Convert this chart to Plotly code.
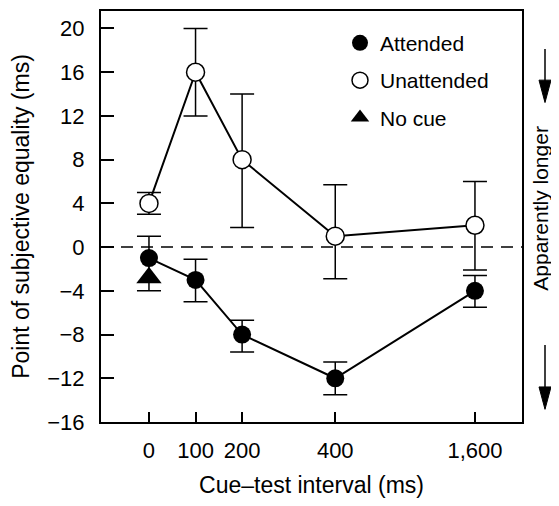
import plotly.graph_objects as go

# ---- data ----
intervals = [0, 100, 200, 400, 1600]
tick_labels = ["0", "100", "200", "400", "1,600"]
axis_pos = [0, 1, 2, 4, 7]          # broken (non-linear) interval axis

attended = [-1, -3, -8, -12, -4]
attended_err_plus = [2, 1.9, 1.3, 1.5, 1.4]
attended_err_minus = [3, 2, 1.6, 1.5, 1.5]

unattended = [4, 16, 8, 1, 2]
unattended_err_plus = [1, 4, 6, 4.7, 4]
unattended_err_minus = [1, 4, 6.2, 3.9, 4.1]

no_cue_interval = [0]
no_cue = [-2.8]

y_ticks = [-16, -12, -8, -4, 0, 4, 8, 12, 16, 20]

pos = dict(zip(intervals, axis_pos))
xs = [pos[i] for i in intervals]
FONT = "Liberation Sans, Arial, sans-serif"

# page has an 8px body margin; figure sized to fit the window without overflow
OFF = 8
W, H = 543, 490
L, R, T, B = 93, 514, 1, 423      # plot area in figure pixels


def px(page_x):
    return (page_x - OFF - L) / (R - L)


def py(page_y):
    return (B - (page_y - OFF)) / (B - T)


fig = go.Figure()

# connecting lines (no legend entries)
for vals in (attended, unattended):
    fig.add_trace(go.Scatter(x=xs, y=vals, mode="lines", showlegend=False,
                             hoverinfo="skip", line=dict(color="black", width=2)))

fig.add_trace(go.Scatter(
    x=[pos[i] for i in no_cue_interval], y=no_cue, name="No cue",
    mode="markers", legendgroup="c", legendrank=3,
    marker=dict(symbol="triangle-up", size=22, color="black"),
))
fig.add_trace(go.Scatter(
    x=xs, y=attended, name="Attended", mode="markers",
    legendgroup="a", legendrank=1,
    marker=dict(symbol="circle", size=18, color="black"),
    error_y=dict(type="data", symmetric=False, array=attended_err_plus,
                 arrayminus=attended_err_minus, color="black", thickness=1.5, width=12),
))
fig.add_trace(go.Scatter(
    x=xs, y=unattended, name="Unattended", mode="markers",
    legendgroup="b", legendrank=2,
    marker=dict(symbol="circle", size=18, color="white", line=dict(color="black", width=1.5)),
    error_y=dict(type="data", symmetric=False, array=unattended_err_plus,
                 arrayminus=unattended_err_minus, color="black", thickness=1.5, width=12),
))

AX = 545   # page x of the side arrows
shapes = [
    dict(type="line", xref="paper", yref="y", x0=0, x1=1, y0=0, y1=0,
         line=dict(color="black", width=1.5, dash="12px,8px"), layer="below"),
    # top arrow
    dict(type="line", xref="paper", yref="paper", x0=px(AX), x1=px(AX), y0=py(48), y1=py(90),
         line=dict(color="black", width=1.5)),
    dict(type="path", xref="paper", yref="paper",
         path=f"M {px(AX - 6)} {py(80)} L {px(AX + 6)} {py(80)} L {px(AX)} {py(103)} Z",
         fillcolor="black", line=dict(color="black", width=1)),
    # bottom arrow
    dict(type="line", xref="paper", yref="paper", x0=px(AX), x1=px(AX), y0=py(352), y1=py(405),
         line=dict(color="black", width=1.5)),
    dict(type="path", xref="paper", yref="paper",
         path=f"M {px(AX - 6)} {py(395)} L {px(AX + 6)} {py(395)} L {px(AX)} {py(418)} Z",
         fillcolor="black", line=dict(color="black", width=1)),
]

fig.update_layout(
    width=W, height=H,
    margin=dict(l=L, r=W - R, t=T, b=H - B, pad=0),
    paper_bgcolor="white", plot_bgcolor="white",
    font=dict(family=FONT, size=21, color="black"),
    showlegend=True,
    legend=dict(x=px(340), y=py(21), xanchor="left", yanchor="top",
                bgcolor="rgba(0,0,0,0)", font=dict(size=21),
                traceorder="grouped", tracegroupgap=7),
    shapes=shapes,
    annotations=[dict(text="Apparently longer", xref="paper", yref="paper",
                      x=px(541), y=py(212), showarrow=False, textangle=-90,
                      font=dict(size=21), xanchor="center", yanchor="middle")],
)
fig.update_xaxes(
    range=[-1.03, 8.01], tickmode="array", tickvals=axis_pos, ticktext=tick_labels,
    ticks="inside", ticklen=10, tickwidth=1.5, tickcolor="black",
    showline=True, linewidth=2, linecolor="black", mirror=True,
    showgrid=False, zeroline=False, tickfont=dict(size=22), ticklabelstandoff=8,
    title=dict(text="Cue–test interval (ms)", font=dict(size=23), standoff=17),
)
fig.update_yaxes(
    range=[-16, 21.6], tickmode="array", tickvals=y_ticks,
    ticks="inside", ticklen=13, tickwidth=1.5, tickcolor="black",
    showline=True, linewidth=2, linecolor="black", mirror=True,
    showgrid=False, zeroline=False, tickfont=dict(size=22), ticklabelstandoff=10,
    title=dict(text="Point of subjective equality (ms)", font=dict(size=23), standoff=12),
)

fig.write_html("out.html")
